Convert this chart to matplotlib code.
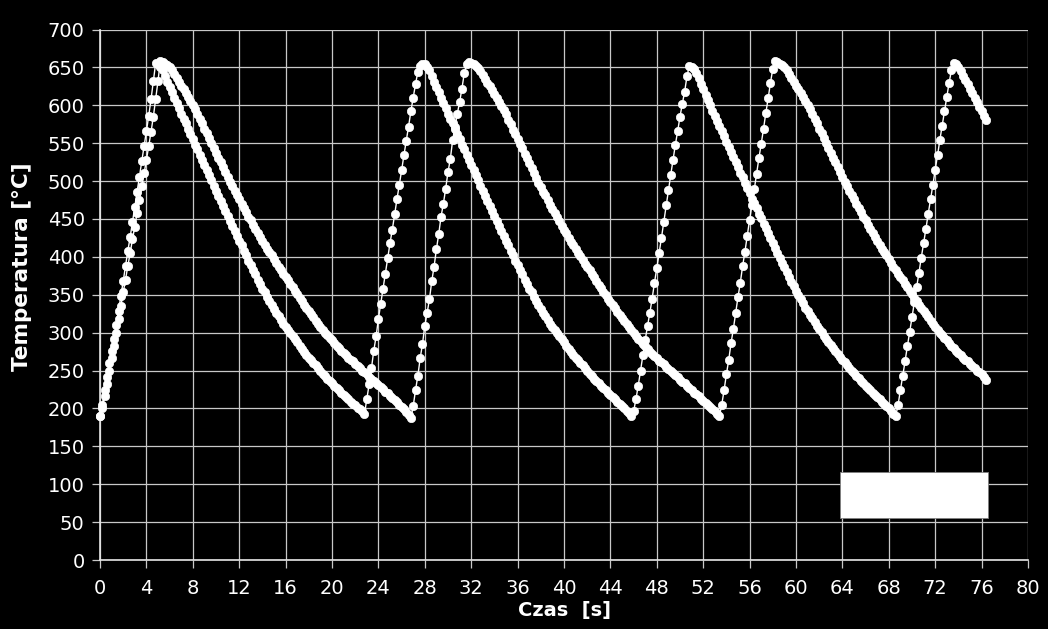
import matplotlib
matplotlib.use("Agg")
import matplotlib.pyplot as plt
from matplotlib.patches import Rectangle
import numpy as np

plt.rcParams['font.family'] = ['DejaVu Sans']

# sampling interval of both thermocouples [s]
dt = 0.2

# ---------------- Series 1 (faster cooling) ----------------
s1_heat1 = [190, 205, 224, 242, 260, 276, 292, 310, 329, 348, 368, 388, 408, 426, 446,
            466, 486, 506, 526, 546, 566, 586, 608, 632, 656]
s1_cool1 = [654, 651, 646, 639, 631, 624, 617, 610, 603, 596, 589, 582, 576, 569, 562,
            555, 548, 542, 535, 528, 521, 514, 508, 501, 494, 487, 480, 474, 467, 460,
            454, 447, 441, 434, 428, 421, 415, 408, 402, 395, 389, 383, 377, 370, 364,
            358, 353, 347, 342, 336, 331, 326, 322, 317, 312, 308, 304, 299, 295, 291,
            287, 283, 279, 275, 271, 267, 264, 260, 257, 253, 250, 246, 243, 239, 236,
            233, 230, 227, 224, 221, 218, 215, 212, 209, 206, 204, 201, 199, 196, 193]
s1_heat2 = [212, 232, 253, 276, 295, 318, 338, 358, 378, 398, 418, 436, 456, 476, 495,
            514, 534, 553, 572, 592, 610, 628, 644, 652, 655]
s1_cool2 = [654, 651, 646, 639, 631, 624, 617, 610, 603, 596, 589, 582, 576, 569, 562,
            555, 548, 542, 535, 528, 521, 514, 508, 501, 494, 487, 480, 474, 467, 460,
            454, 447, 441, 434, 428, 421, 415, 408, 402, 395, 389, 383, 377, 370, 364,
            358, 353, 347, 342, 336, 331, 326, 322, 317, 312, 308, 304, 299, 295, 291,
            287, 283, 279, 275, 271, 267, 264, 260, 257, 253, 250, 246, 243, 239, 236,
            233, 230, 227, 224, 221, 218, 215, 212, 209, 206, 203, 200, 197, 194, 190]
s1_heat3 = [196, 212, 230, 250, 270, 290, 309, 326, 345, 366, 385, 405, 425, 446, 468,
            488, 508, 528, 548, 566, 585, 602, 618, 638, 652]
s1_cool3 = [651, 648, 643, 636, 628, 621, 614, 607, 600, 593, 586, 579, 573, 566, 559,
            552, 545, 539, 532, 525, 518, 511, 505, 498, 491, 484, 477, 471, 464, 457,
            451, 444, 438, 431, 425, 418, 412, 405, 399, 392, 386, 380, 374, 367, 361,
            355, 350, 344, 339, 333, 328, 323, 319, 314, 309, 305, 301, 296, 292, 288,
            284, 280, 276, 272, 268, 264, 261, 257, 254, 250, 247, 243, 240, 236, 233,
            230, 227, 224, 221, 218, 215, 212, 209, 206, 203, 200, 197, 193, 190]
s1_heat4 = [205, 224, 243, 262, 282, 301, 320, 340, 360, 379, 399, 418, 437, 457, 476,
            495, 515, 534, 554, 573, 592, 611, 630, 646, 656]
s1_cool4 = [654, 650, 645, 639, 634, 628, 622, 616, 610, 604, 598, 592, 586, 580]

# ---------------- Series 2 (slower cooling) ----------------
s2_heat1 = [190, 200, 216, 232, 250, 266, 283, 300, 318, 335, 353, 370, 388, 405, 423,
            440, 458, 475, 493, 510, 528, 546, 565, 585, 608, 632, 658]
s2_cool1 = [657, 655, 653, 650, 646, 641, 636, 631, 626, 621, 616, 611, 605, 600, 595,
            589, 582, 576, 569, 563, 557, 550, 544, 537, 531, 525, 518, 512, 505, 499,
            493, 487, 482, 476, 470, 464, 459, 453, 448, 442, 437, 432, 426, 421, 416,
            411, 406, 402, 397, 392, 387, 383, 378, 374, 369, 364, 360, 355, 351, 346,
            342, 337, 333, 328, 324, 320, 316, 312, 308, 304, 300, 297, 293, 290, 286,
            283, 280, 276, 273, 270, 267, 264, 262, 259, 256, 253, 250, 248, 245, 242,
            239, 236, 234, 231, 228, 225, 222, 220, 217, 214, 211, 208, 205, 202, 199,
            195, 191, 187]
s2_heat2 = [203, 224, 243, 266, 285, 309, 326, 344, 368, 387, 410, 430, 453, 470, 490,
            512, 529, 554, 571, 589, 604, 622, 642, 655, 657]
s2_cool2 = [656, 654, 652, 649, 645, 640, 635, 630, 625, 620, 615, 610, 604, 599, 594,
            588, 581, 575, 568, 562, 556, 549, 543, 536, 530, 524, 517, 511, 504, 498,
            492, 486, 481, 475, 469, 463, 458, 452, 447, 441, 436, 431, 425, 420, 415,
            410, 405, 401, 396, 391, 386, 382, 377, 373, 368, 363, 359, 354, 350, 345,
            341, 336, 332, 327, 323, 319, 315, 311, 307, 303, 299, 296, 292, 289, 285,
            282, 279, 275, 272, 269, 266, 263, 261, 258, 255, 252, 249, 247, 244, 241,
            238, 235, 233, 230, 227, 224, 221, 219, 216, 213, 210, 207, 205, 202, 199,
            196, 193, 190]
s2_heat3 = [205, 224, 245, 264, 286, 305, 326, 347, 366, 388, 407, 428, 449, 468, 489,
            509, 530, 549, 569, 590, 609, 630, 648, 658]
s2_cool3 = [657, 655, 653, 650, 646, 641, 636, 631, 626, 621, 616, 611, 605, 600, 595,
            589, 582, 576, 569, 563, 557, 550, 544, 537, 531, 525, 518, 512, 505, 499,
            493, 487, 482, 476, 470, 464, 459, 453, 448, 442, 437, 432, 426, 421, 416,
            411, 406, 402, 397, 392, 387, 383, 378, 374, 369, 364, 360, 355, 351, 346,
            342, 337, 333, 328, 324, 320, 316, 312, 308, 304, 300, 297, 293, 290, 286,
            283, 280, 276, 273, 270, 267, 264, 262, 259, 256, 253, 250, 248, 245, 242,
            238]

x_ticks = list(range(0, 81, 4))
y_ticks = list(range(0, 701, 50))
x_label = "Czas  [s]"
y_label = "Temperatura [°C]"

series1 = (s1_heat1 + s1_cool1 + s1_heat2 + s1_cool2 + s1_heat3 + s1_cool3
           + s1_heat4 + s1_cool4)
series2 = (s2_heat1 + s2_cool1 + s2_heat2 + s2_cool2 + s2_heat3 + s2_cool3)
t1 = np.arange(len(series1)) * dt
t2 = np.arange(len(series2)) * dt

fig = plt.figure(figsize=(10.48, 6.29), dpi=100, facecolor='black')
ax = fig.add_axes([100 / 1048, 69 / 629, 928 / 1048, 530.5 / 629])
ax.set_facecolor('black')

for t, s in ((t2, series2), (t1, series1)):
    ax.plot(t, s, color='white', lw=1.0, marker='o', ms=6.0,
            mfc='white', mec='white', mew=0.5, clip_on=False, zorder=3)

ax.set_xlim(0, 80)
ax.set_ylim(0, 700)
ax.set_xticks(x_ticks)
ax.set_yticks(y_ticks)
ax.grid(True, color='#c8c8c8', lw=0.9)
ax.set_axisbelow(True)
for side in ('top', 'right'):
    ax.spines[side].set_visible(False)
for side in ('left', 'bottom'):
    ax.spines[side].set_color('#e6e6e6')
    ax.spines[side].set_linewidth(1.2)
ax.tick_params(colors='white', labelsize=14, length=5.5, width=0.9, direction='out')
ax.tick_params(axis='x', color='#c8c8c8', pad=8)
ax.tick_params(axis='y', color='#c8c8c8', pad=5.5)

ax.set_xlabel(x_label, color='white', fontsize=14, fontweight='bold')
ax.set_ylabel(y_label, color='white', fontsize=15.5, fontweight='bold')
ax.xaxis.set_label_coords(0.5, -0.078)
ax.yaxis.set_label_coords(-0.073, 0.552)

# empty white legend box
ax.add_patch(Rectangle((0.797, 0.079), 0.160, 0.087, transform=ax.transAxes,
                       facecolor='white', edgecolor='#808080', lw=0.6, zorder=5))

fig.savefig('out.png', dpi=100, facecolor='black')
